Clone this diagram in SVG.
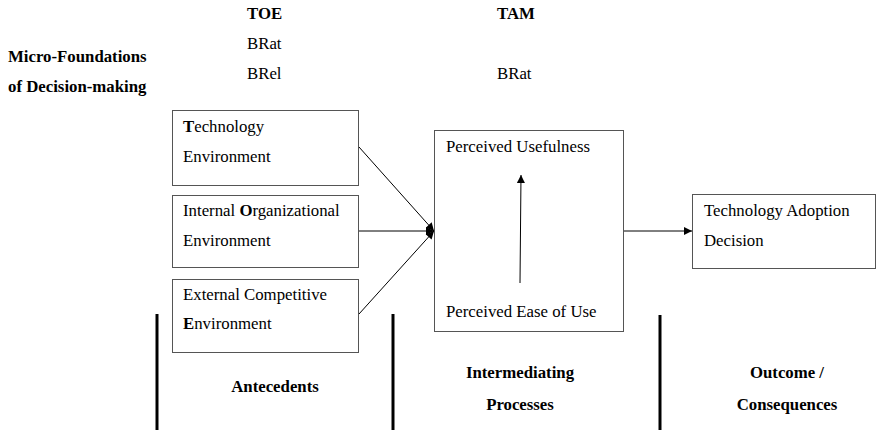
<svg xmlns="http://www.w3.org/2000/svg" width="877" height="430" viewBox="0 0 877 430">
<style>
text{font-family:"Liberation Serif","Times New Roman",serif;font-size:16.8px;fill:#000}
.b{font-weight:bold}
.box{fill:#fff;stroke:#555;stroke-width:1}
.ln{stroke:#000;stroke-width:1;fill:none}
.bar{stroke:#000;stroke-width:3}
</style>
<defs>
<marker id="ah" viewBox="0 0 10 10" refX="10" refY="5" markerWidth="10" markerHeight="8" markerUnits="userSpaceOnUse" orient="auto"><path d="M0,0L10,5L0,10z" fill="#000"/></marker>
</defs>
<g id="header">
<text class="b" x="247" y="19">TOE</text>
<text x="247" y="49">BRat</text>
<text x="247" y="79">BRel</text>
<text class="b" x="497" y="19">TAM</text>
<text x="497" y="79">BRat</text>
<text class="b" x="8" y="62">Micro-Foundations</text>
<text class="b" x="8" y="92">of Decision-making</text>
</g>
<g id="tech">
<rect class="box" x="172.5" y="110.5" width="186" height="75"/>
<text x="183" y="132"><tspan class="b">T</tspan>echnology</text>
<text x="183" y="162">Environment</text>
</g>
<g id="org">
<rect class="box" x="172.5" y="195.5" width="186" height="72"/>
<text x="183" y="216">Internal <tspan class="b">O</tspan>rganizational</text>
<text x="183" y="246">Environment</text>
</g>
<g id="env">
<rect class="box" x="172.5" y="279.5" width="186" height="73"/>
<text x="183" y="300">External Competitive</text>
<text x="183" y="329"><tspan class="b">E</tspan>nvironment</text>
</g>
<g id="tam">
<rect class="box" x="434.5" y="130.5" width="189" height="201"/>
<text x="446" y="152">Perceived Usefulness</text>
<text x="446" y="317">Perceived Ease of Use</text>
</g>
<g id="outcome">
<rect class="box" x="692.5" y="194.5" width="183" height="74"/>
<text x="704" y="216">Technology Adoption</text>
<text x="704" y="246">Decision</text>
</g>
<g id="connectors">
<line class="ln" x1="359" y1="147" x2="434" y2="231" marker-end="url(#ah)"/>
<line class="ln" x1="359" y1="231" x2="434" y2="231" marker-end="url(#ah)"/>
<line class="ln" x1="359" y1="314" x2="434" y2="231" marker-end="url(#ah)"/>
<line class="ln" x1="520" y1="283" x2="521" y2="175" marker-end="url(#ah)"/>
<line class="ln" x1="624" y1="231" x2="692" y2="231" marker-end="url(#ah)"/>
</g>
<g id="dividers">
<line class="bar" x1="157" y1="314" x2="157" y2="430"/>
<line class="bar" x1="393" y1="314" x2="393" y2="430"/>
<line class="bar" x1="660" y1="315" x2="660" y2="430"/>
</g>
<g id="phases">
<text class="b" x="275" y="392" text-anchor="middle">Antecedents</text>
<text class="b" x="520" y="378" text-anchor="middle">Intermediating</text>
<text class="b" x="520" y="410" text-anchor="middle">Processes</text>
<text class="b" x="787" y="378" text-anchor="middle">Outcome /</text>
<text class="b" x="787" y="410" text-anchor="middle">Consequences</text>
</g>
</svg>
